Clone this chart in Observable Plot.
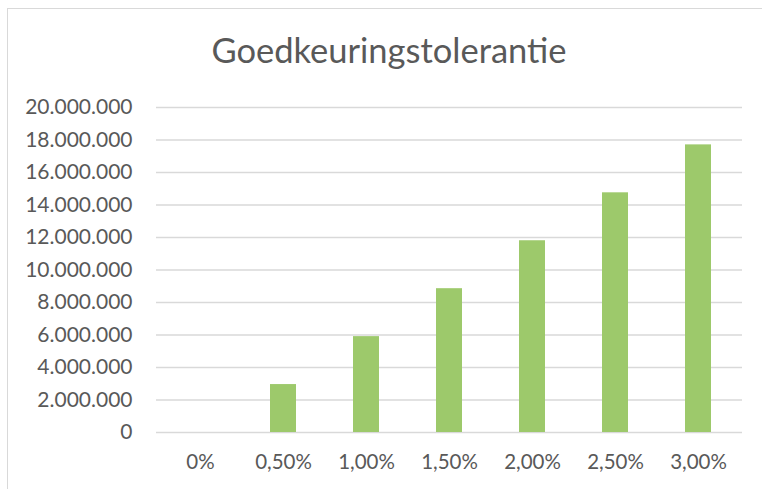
<!DOCTYPE html>
<html>
<head>
<meta charset="utf-8">
<script src="https://cdn.jsdelivr.net/npm/d3@7"></script>
<script src="https://cdn.jsdelivr.net/npm/@observablehq/plot@0.6"></script>
<style>
  html, body { margin: 0; padding: 0; background: #fff; }
  #wrap { position: relative; width: 762px; height: 489px; overflow: hidden; font-family: Lato, "Open Sans", sans-serif; }
  #frame { position: absolute; left: 7px; top: 8px; width: 800px; height: 600px; border: 1px solid #d9d9d9; box-sizing: border-box; }
  #title { position: absolute; left: 0; width: 778px; top: 30px; text-align: center; font-size: 34.5px; color: #595959; line-height: 40px; }
  #chart { position: absolute; left: 0; top: 0; }
</style>
</head>
<body>
<div id="wrap">
  <div id="frame"></div>
  <div id="chart"></div>
  <div id="title">Goedkeuringstolerantie</div>
</div>
<script>
const categories = ["0%", "0,50%", "1,00%", "1,50%", "2,00%", "2,50%", "3,00%"];
const values = [0, 2950000, 5900000, 8850000, 11800000, 14750000, 17700000];
const yTicks = [0, 2000000, 4000000, 6000000, 8000000, 10000000, 12000000, 14000000, 16000000, 18000000, 20000000];

const data = categories.map((c, i) => ({category: c, value: values[i]}));
const nl = d3.formatLocale({decimal: ",", thousands: ".", grouping: [3], currency: ["€", ""]});
const fmt = nl.format(",d");

const chart = Plot.plot({
  width: 762,
  height: 489,
  marginLeft: 156,
  marginRight: 20,
  marginTop: 107,
  marginBottom: 57,
  style: {fontFamily: "Lato, 'Open Sans', sans-serif", fontSize: "21px", color: "#595959", background: "transparent", overflow: "visible"},
  x: {domain: categories, paddingInner: 0.69, paddingOuter: 0.345, label: null},
  y: {domain: [0, 20000000], ticks: yTicks, label: null},
  marks: [
    Plot.gridY(yTicks, {stroke: "#d9d9d9", strokeOpacity: 1, strokeWidth: 1.3}),
    Plot.barY(data, {x: "category", y: "value", fill: "#9dc96b"}),
    Plot.axisY(yTicks, {tickSize: 0, tickPadding: 24, tickFormat: fmt, fill: "#595959", fontSize: 21}),
    Plot.axisX({tickSize: 0, tickPadding: 22, fill: "#595959", fontSize: 20.5})
  ]
});
document.getElementById("chart").appendChild(chart);
</script>
</body>
</html>
